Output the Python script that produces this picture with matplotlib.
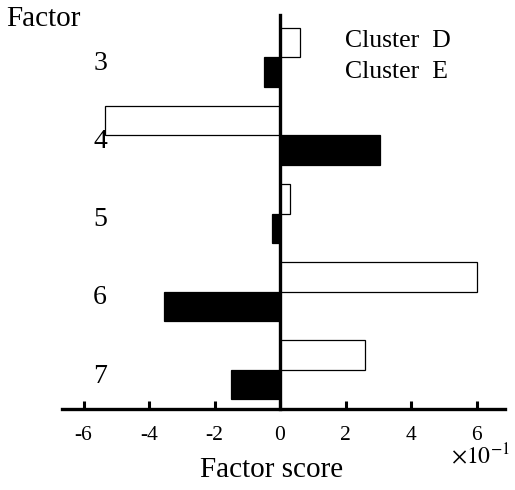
""" Factor scores of clusters D and E
"""
import matplotlib
matplotlib.use('Agg')
import matplotlib.pyplot as plt
from matplotlib.transforms import blended_transform_factory

plt.rcParams['font.family'] = ['Liberation Serif', 'DejaVu Serif']
plt.rcParams['mathtext.fontset'] = 'stix'

# data (factor score x 10^-1)
factors = [3, 4, 5, 6, 7]
cluster_d = [0.6, -5.35, 0.3, 6.0, 2.6]
cluster_e = [-0.5, 3.05, -0.25, -3.55, -1.5]
xticks = [-6, -4, -2, 0, 2, 4, 6]

# fig params
W, H = 515, 490
bar_h = 0.377
fsize_tick = 15.5
fsize_label = 18.5
fsize_title = 21

fig = plt.figure(figsize=(W / 100, H / 100), dpi=100)
ax = fig.add_axes([62 / W, 1 - 409 / H, (505 - 62) / W, (409 - 15) / H])

ax.barh([f - bar_h / 2 for f in factors], cluster_d, height=bar_h,
        color='white', edgecolor='black', linewidth=0.9)
ax.barh([f + bar_h / 2 for f in factors], cluster_e, height=bar_h,
        color='black', edgecolor='black', linewidth=0.9)

ax.set_xlim(-6.66, 6.87)
ax.set_ylim(7.5, 2.46)

for side in ['top', 'right']:
    ax.spines[side].set_visible(False)
ax.spines['left'].set_position(('data', 0))
ax.spines['left'].set_linewidth(2.4)
ax.spines['bottom'].set_linewidth(2.4)
ax.set_yticks([])
ax.set_xticks(xticks)
ax.set_xticklabels([str(t) for t in xticks], fontsize=fsize_tick)
ax.tick_params(axis='x', direction='in', length=6, width=2.2, pad=12)

# factor labels
trans = blended_transform_factory(ax.transAxes, ax.transData)
for f in factors:
    ax.text(0.086, f + 0.08, str(f), transform=trans, ha='center',
            va='center', fontsize=20)

fig.text(6 / W, 1 - 19 / H, 'Factor', ha='left', va='center', fontsize=fsize_title)
fig.text(345 / W, 1 - 41 / H, 'Cluster  D', ha='left', va='center', fontsize=fsize_label)
fig.text(345 / W, 1 - 72 / H, 'Cluster  E', ha='left', va='center', fontsize=fsize_label)
fig.text(272 / W, 1 - 470 / H, 'Factor score', ha='center', va='center', fontsize=fsize_title)
fig.text(510 / W, 1 - 456 / H, r'$\times 10^{-1}$', ha='right', va='center', fontsize=17)

fig.savefig('out.png', dpi=100)
